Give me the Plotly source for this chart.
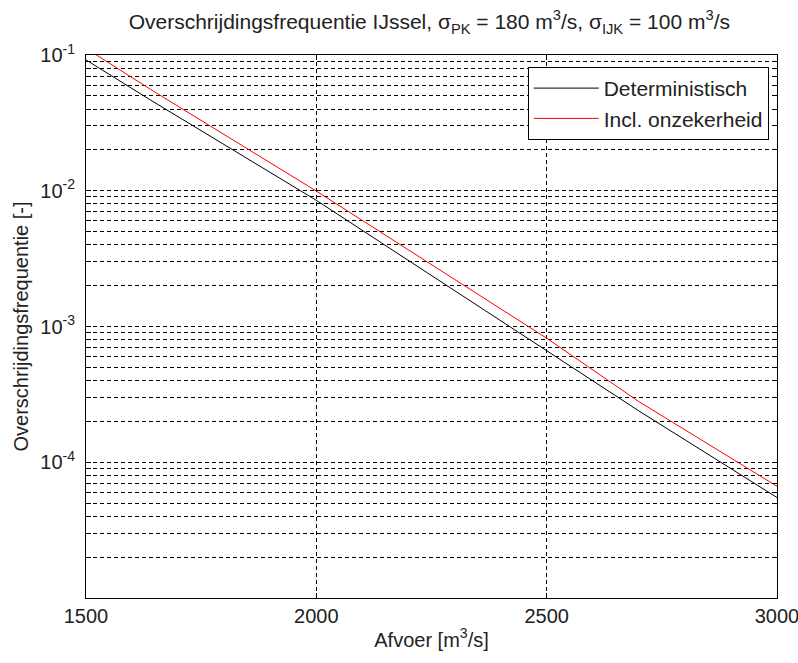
import plotly.graph_objects as go

# Data
afvoer_det = [1500, 1640, 2000, 2500, 2700, 3000]
freq_det = [0.092, 0.0466, 0.0085, 0.00066, 0.000239, 0.000055]

afvoer_onz = [1500, 1640, 2000, 2500, 2700, 3000]
freq_onz = [0.112, 0.0558, 0.00995, 0.00082, 0.00028, 0.0000665]

x_ticks = [1500, 2000, 2500, 3000]
x_ticklabels = ["1500", "2000", "2500", "3000"]

decades = [-5, -4, -3, -2]
major_labels = {-1: "10<sup>-1</sup>", -2: "10<sup>-2</sup>", -3: "10<sup>-3</sup>", -4: "10<sup>-4</sup>"}

y_tickvals, y_ticktext = [], []
for d in decades:
    for k in range(1, 10):
        y_tickvals.append(k * 10.0 ** d)
        y_ticktext.append(major_labels.get(d, "") if k == 1 else "")
y_tickvals.append(0.1)
y_ticktext.append(major_labels[-1])

font_family = "Liberation Sans, Arial, sans-serif"
txt_color = "#222"
fs = 20

fig = go.Figure()
fig.add_trace(go.Scatter(x=afvoer_det, y=freq_det, mode="lines", name="Deterministisch",
                         line=dict(color="black", width=1)))
fig.add_trace(go.Scatter(x=afvoer_onz, y=freq_onz, mode="lines", name="Incl. onzekerheid",
                         line=dict(color="red", width=1)))

axis_common = dict(showline=True, linecolor="black", linewidth=1, mirror="ticks",
                   ticks="inside", ticklen=5, tickcolor="black",
                   showgrid=True, gridcolor="black", gridwidth=1, griddash="4px,3px",
                   zeroline=False, automargin=False, ticklabeloverflow="allow",
                   tickfont=dict(size=fs, color=txt_color, family=font_family))

fig.update_xaxes(range=[1500, 3000], tickvals=x_ticks, ticktext=x_ticklabels,
                 title=dict(text="Afvoer [m<sup>3</sup>/s]", font=dict(size=fs, color=txt_color, family=font_family),
                            standoff=6),
                 **axis_common)
fig.update_yaxes(type="log", range=[-5, -1], tickvals=y_tickvals, ticktext=y_ticktext,
                 ticklabelstandoff=6,
                 title=dict(text="Overschrijdingsfrequentie [-]", font=dict(size=fs, color=txt_color, family=font_family),
                            standoff=6),
                 **axis_common)

fig.update_layout(
    width=798, height=663,
    margin=dict(l=86, r=21, t=55, b=65, autoexpand=False),
    paper_bgcolor="white", plot_bgcolor="white",
    title=dict(text="Overschrijdingsfrequentie IJssel, σ<sub>PK</sub> = 180 m<sup>3</sup>/s, σ<sub>IJK</sub> = 100 m<sup>3</sup>/s",
               x=0.538, xanchor="center", y=0.967, yanchor="middle",
               font=dict(size=21, color=txt_color, family=font_family)),
    legend=dict(x=0.988, y=0.978, xanchor="right", yanchor="top",
                bgcolor="white", bordercolor="black", borderwidth=1, itemwidth=65,
                font=dict(size=21, color=txt_color, family=font_family)),
    showlegend=True,
)

fig.write_html("out.html", config={"displayModeBar": False},
               post_script="document.body.style.margin='0';document.body.style.overflow='hidden';")
